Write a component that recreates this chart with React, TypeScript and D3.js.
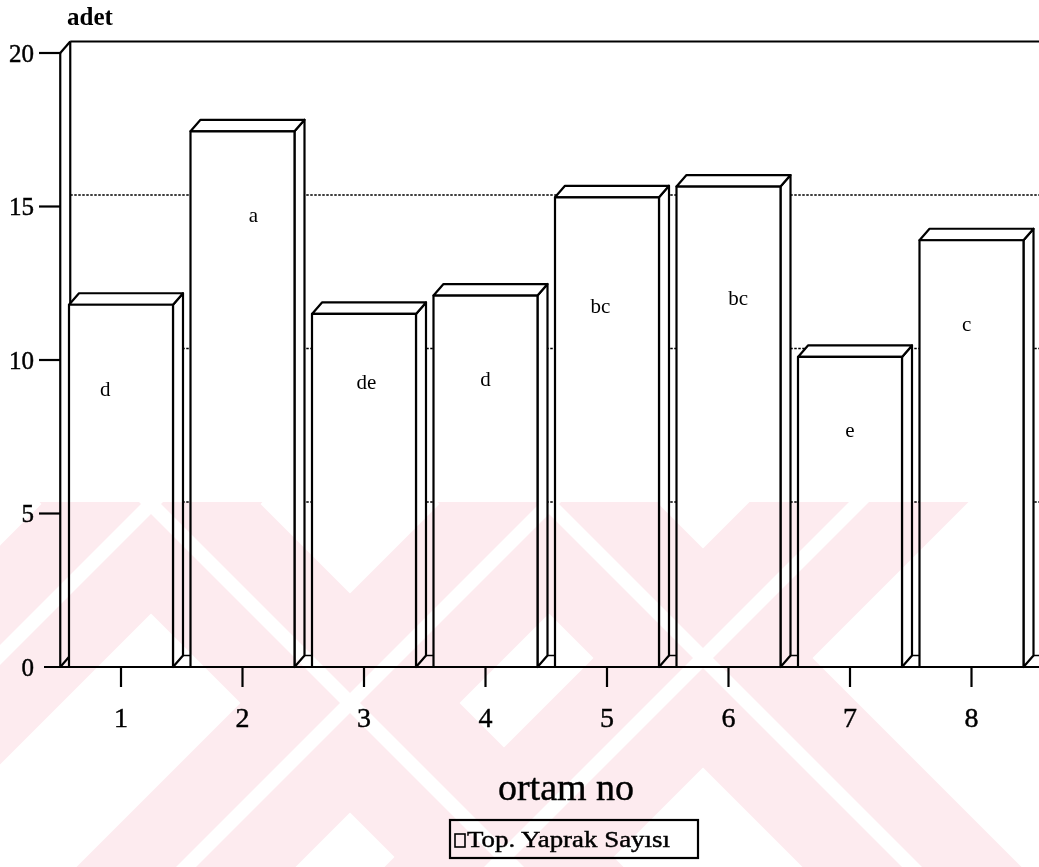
import React from 'react';
import * as d3 from 'd3';

// Leaf count per growing medium (ortam), with significance letters
const categories = ['1', '2', '3', '4', '5', '6', '7', '8'];
const leafCounts = [11.8, 17.45, 11.5, 12.1, 15.3, 15.65, 10.1, 13.9];
const groupLetters = ['d', 'a', 'de', 'd', 'bc', 'bc', 'e', 'c'];
// where each letter sits: shift across the band (fraction of band) and height in axis units
const letterShift = [-0.13, 0.09, 0.02, 0.0, -0.055, 0.08, 0.0, -0.04];
const letterLevel = [9.0, 14.65, 9.2, 9.3, 11.7, 11.95, 7.65, 11.1];
const yTicks = [0, 5, 10, 15, 20];
const gridValues = [5, 10, 15];
const yAxisTitle = 'adet';
const xAxisTitle = 'ortam no';
const seriesName = 'Top. Yaprak Sayısı';

// background stamp bands (diagonal offsets)
const stampBack = [-353, 45];
const stampFwd = [655, 1053, 1361];

const W = 1039;
const H = 867;
const DX = 10;
const DY = 11.5;
const BAR_W = 104;
const SERIF = '"Liberation Serif", "Times New Roman", serif';
const INK = { fill: '#000', stroke: '#000', strokeWidth: 0.45 };

export default function App() {
  const x = d3.scaleBand<string>().domain(categories).range([60.25, 1032.25]);
  const y = d3.scaleLinear().domain([0, 20]).range([667, 53]);
  const bw = x.bandwidth();
  const x0 = x.range()[0];
  const x1 = x.range()[1];
  const yb = y(0);
  const yTop = y(20);

  const stampTop = 502;
  const stampBottom = H;
  const backPoly = (c: number, h: number) =>
    [
      [stampTop + c - h, stampTop],
      [stampTop + c + h, stampTop],
      [stampBottom + c + h, stampBottom],
      [stampBottom + c - h, stampBottom],
    ]
      .map((p) => p.join(','))
      .join(' ');
  const fwdPoly = (s: number, h: number) =>
    [
      [s - h - stampTop, stampTop],
      [s + h - stampTop, stampTop],
      [s + h - stampBottom, stampBottom],
      [s - h - stampBottom, stampBottom],
    ]
      .map((p) => p.join(','))
      .join(' ');

  const line = { stroke: '#000', strokeWidth: 2.2, fill: 'none' };

  return (
    <svg
      width={W}
      height={H}
      viewBox={`0 0 ${W} ${H}`}
      style={{ position: 'absolute', left: 0, top: 0, display: 'block', background: '#fff' }}
    >
      <defs>
        <clipPath id="stampClip">
          <rect x={0} y={stampTop} width={W} height={stampBottom - stampTop} />
        </clipPath>
      </defs>
      <rect x={0} y={0} width={W} height={H} fill="#fff" />

      {/* back wall grid */}
      {gridValues.map((v) => (
        <line
          key={'g' + v}
          x1={x0 + DX}
          x2={x1 + DX}
          y1={y(v) - DY}
          y2={y(v) - DY}
          stroke="#000"
          strokeWidth={1.7}
          strokeDasharray="2.5 1.5"
        />
      ))}
      <line x1={x0 + DX} x2={x1 + DX} y1={yb - DY} y2={yb - DY} {...line} strokeWidth={1.7} />
      <line x1={x0 + DX} x2={W + 20} y1={yTop - DY} y2={yTop - DY} {...line} />

      {/* left wall */}
      <line x1={x0} x2={x0} y1={yTop} y2={yb} {...line} />
      <line x1={x0 + DX} x2={x0 + DX} y1={yTop - DY} y2={yb - DY} {...line} />
      <line x1={x0} x2={x0 + DX} y1={yTop} y2={yTop - DY} {...line} />
      <line x1={x0} x2={x0 + DX} y1={yb} y2={yb - DY} {...line} />

      {/* bars */}
      {leafCounts.map((v, i) => {
        const xl = (x(categories[i]) as number) + (bw - BAR_W) / 2;
        const xr = xl + BAR_W;
        const yt = y(v);
        const side = `${xr},${yt} ${xr + DX},${yt - DY} ${xr + DX},${yb - DY} ${xr},${yb}`;
        const top = `${xl},${yt} ${xl + DX},${yt - DY} ${xr + DX},${yt - DY} ${xr},${yt}`;
        return (
          <g key={'b' + i} stroke="#000" strokeWidth={2.2} strokeLinejoin="round" fill="#fff">
            <polygon points={side} />
            <polygon points={top} />
            <rect x={xl} y={yt} width={BAR_W} height={yb - yt} />
          </g>
        );
      })}

      {/* significance letters */}
      {groupLetters.map((t, i) => (
        <text
          key={'l' + i}
          x={(x(categories[i]) as number) + bw / 2 + letterShift[i] * bw}
          y={y(letterLevel[i])}
          textAnchor="middle"
          dominantBaseline="middle"
          fontFamily={SERIF}
          fontSize={21}
          fill="#000"
        >
          {t}
        </text>
      ))}

      {/* x axis */}
      <line x1={44} x2={W + 20} y1={yb} y2={yb} {...line} />
      {categories.map((c) => {
        const cx = (x(c) as number) + bw / 2;
        return (
          <g key={'t' + c}>
            <line x1={cx} x2={cx} y1={yb} y2={yb + 20} {...line} />
            <text x={cx} y={727} textAnchor="middle" fontFamily={SERIF} fontSize={28} {...INK}>
              {c}
            </text>
          </g>
        );
      })}

      {/* y axis */}
      {yTicks.map((v) => (
        <g key={'y' + v}>
          {v > 0 && <line x1={39} x2={x0} y1={y(v)} y2={y(v)} {...line} />}
          <text
            x={34}
            y={y(v)}
            textAnchor="end"
            dominantBaseline="central"
            fontFamily={SERIF}
            fontSize={25}
            {...INK}
          >
            {v}
          </text>
        </g>
      ))}

      <text x={67} y={25} fontFamily={SERIF} fontSize={25} fontWeight="bold" fill="#000">
        {yAxisTitle}
      </text>

      <text x={566} y={800} textAnchor="middle" fontFamily={SERIF} fontSize={38} {...INK}>
        {xAxisTitle}
      </text>

      {/* legend */}
      <rect x={450} y={820} width={248} height={38} fill="#fff" stroke="#000" strokeWidth={2.2} />
      <rect x={455} y={834} width={10} height={13} fill="#fff" stroke="#000" strokeWidth={1.6} />
      <text
        x={467}
        y={847}
        fontFamily={SERIF}
        fontSize={24}
        textLength={203}
        lengthAdjust="spacingAndGlyphs"
        {...INK}
      >
        {seriesName}
      </text>

      {/* faint stamp in the lower half of the page */}
      <g clipPath="url(#stampClip)" style={{ mixBlendMode: 'multiply' }}>
        {stampBack.map((c) => (
          <polygon key={'sb' + c} points={backPoly(c, 109.5)} fill="#fdebef" />
        ))}
        {stampFwd.map((s) => (
          <polygon key={'sf' + s} points={fwdPoly(s, 109.5)} fill="#fdebef" />
        ))}
        {stampBack.map((c) => (
          <polygon key={'wb' + c} points={backPoly(c, 10)} fill="#fff" />
        ))}
        {stampFwd.map((s) => (
          <polygon key={'wf' + s} points={fwdPoly(s, 10)} fill="#fff" />
        ))}
      </g>
    </svg>
  );
}
